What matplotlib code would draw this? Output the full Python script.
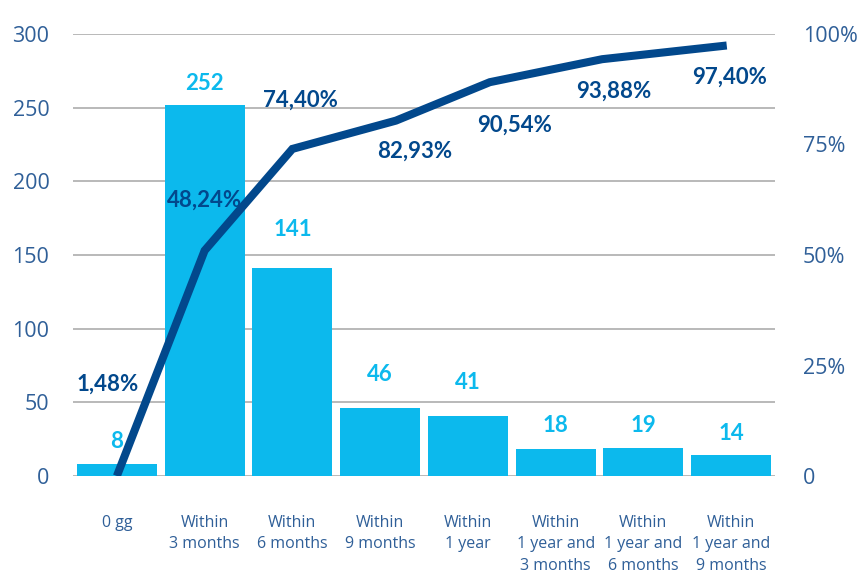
import matplotlib
matplotlib.use("Agg")
import matplotlib.pyplot as plt

plt.rcParams["font.family"] = ["Lato", "DejaVu Sans"]
LIGHT = ["Open Sans", "DejaVu Sans"]

categories = ["0 gg", "Within\n3 months", "Within\n6 months", "Within\n9 months",
              "Within\n1 year", "Within\n1 year and\n3 months",
              "Within\n1 year and\n6 months", "Within\n1 year and\n9 months"]
counts = [8, 252, 141, 46, 41, 18, 19, 14]

# cumulative line as drawn (x in category units, y in %)
cum_x = [0, 1, 2, 3.18, 4.25, 5.53, 6.95]
cum_y = [0, 51.0, 74.0, 80.4, 89.1, 94.3, 97.4]
cum_labels = ["1,48%", "48,24%", "74,40%", "82,93%", "90,54%", "93,88%", "97,40%"]
# label anchor positions (x in category units, y in %)
lab_x = [-0.1, 1.0, 2.09, 3.39, 4.53, 5.66, 6.98]
lab_y = [20.8, 62.4, 85.1, 73.5, 79.4, 87.1, 90.3]
bar_lab_off = [16, 15, 28, 24, 24, 17, 16, 16]

C_BAR = "#0cb9ed"; C_LINE = "#02488c"; C_TXT = "#2f5f98"; C_GRID = "#b3b3b3"

fig = plt.figure(figsize=(8.63, 5.75), dpi=100)
ax = fig.add_axes([73/863, 1-476/575, 702/863, 442/575])
x = list(range(len(categories)))
ax.bar(x, counts, width=0.91, color=C_BAR, zorder=2)
for xi, v, off in zip(x, counts, bar_lab_off):
    ax.annotate(str(v), (xi, v), xytext=(0, off), textcoords="offset points",
                ha="center", va="center", fontsize=16, fontweight="bold", color=C_BAR)
ax.set_xlim(-0.5, 7.5); ax.set_ylim(0, 300)
ax.set_yticks(range(0, 301, 50))
ax.set_yticklabels([str(v) for v in range(0, 301, 50)], family=LIGHT)
ax.grid(True, axis="y", color=C_GRID, lw=1.3, zorder=0)
ax.set_axisbelow(True)
ax.set_xticks(x)
ax.set_xticklabels(categories, fontsize=11.5, color=C_TXT, linespacing=1.45, va="top", family=LIGHT)
ax.tick_params(axis="x", length=0, pad=28)
ax.tick_params(axis="y", length=0, pad=17, labelsize=15.5, labelcolor=C_TXT)
for s in ax.spines.values(): s.set_visible(False)

ax2 = ax.twinx()
ax2.plot(cum_x, cum_y, color=C_LINE, lw=5.8, solid_capstyle="butt", solid_joinstyle="miter", zorder=5)
for lx, ly, t in zip(lab_x, lab_y, cum_labels):
    ax2.text(lx, ly, t, ha="center", va="center", fontsize=16, fontweight="bold", color=C_LINE)
ax2.set_ylim(0, 100)
ax2.set_yticks([0, 25, 50, 75, 100])
ax2.set_yticklabels(["0", "25%", "50%", "75%", "100%"], family=LIGHT)
ax2.tick_params(axis="y", length=0, pad=20, labelsize=15.5, labelcolor=C_TXT)
for s in ax2.spines.values(): s.set_visible(False)

fig.savefig("out.png", dpi=100)
